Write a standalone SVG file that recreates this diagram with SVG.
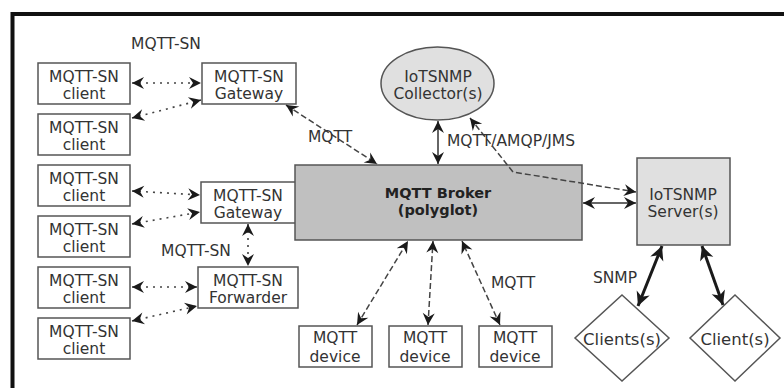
<svg xmlns="http://www.w3.org/2000/svg" width="784" height="388" viewBox="0 0 784 388">
<defs>
<marker id="ah" viewBox="-13 -7 14 14" refX="0" refY="0" markerWidth="14" markerHeight="14" markerUnits="userSpaceOnUse" orient="auto-start-reverse">
<path d="M0,0 L-12,-6 L-8,0 L-12,6 Z" fill="#1a1a1a"/>
</marker>
<marker id="ahb" viewBox="-15 -8 16 16" refX="0" refY="0" markerWidth="16" markerHeight="16" markerUnits="userSpaceOnUse" orient="auto-start-reverse">
<path d="M0,0 L-14,-7 L-10,0 L-14,7 Z" fill="#1a1a1a"/>
</marker>
</defs>
<style>
text{font-family:"DejaVu Sans","Liberation Sans",sans-serif;font-size:15.5px;fill:#333;text-anchor:middle}
.box{fill:#fff;stroke:#555;stroke-width:1.5}
.gray{fill:#e0e0e0;stroke:#555;stroke-width:1.5}
.dot{fill:none;stroke:#444;stroke-width:1.6;stroke-dasharray:2,5;marker-start:url(#ah);marker-end:url(#ah)}
.dash{fill:none;stroke:#444;stroke-width:1.5;stroke-dasharray:6,3;marker-start:url(#ah);marker-end:url(#ah)}
.solid{fill:none;stroke:#333;stroke-width:1.5;marker-start:url(#ah);marker-end:url(#ah)}
.thick{fill:none;stroke:#1a1a1a;stroke-width:3;marker-start:url(#ahb);marker-end:url(#ahb)}
.bold{font-weight:bold;fill:#222}
</style>
<rect width="784" height="388" fill="#fff"/>
<path d="M12.5,388 V14 H784" fill="none" stroke="#111" stroke-width="4"/>

<g id="client1"><rect class="box" x="38" y="63" width="92" height="41"/><text x="84" y="82">MQTT-SN</text><text x="84" y="99">client</text></g>
<g id="client2"><rect class="box" x="38" y="114" width="92" height="41"/><text x="84" y="133">MQTT-SN</text><text x="84" y="150">client</text></g>
<g id="client3"><rect class="box" x="38" y="165" width="92" height="41"/><text x="84" y="184">MQTT-SN</text><text x="84" y="201">client</text></g>
<g id="client4"><rect class="box" x="38" y="216" width="92" height="41"/><text x="84" y="235">MQTT-SN</text><text x="84" y="252">client</text></g>
<g id="client5"><rect class="box" x="38" y="267" width="92" height="41"/><text x="84" y="286">MQTT-SN</text><text x="84" y="303">client</text></g>
<g id="client6"><rect class="box" x="38" y="318" width="92" height="41"/><text x="84" y="337">MQTT-SN</text><text x="84" y="354">client</text></g>

<g id="gateway1"><rect class="box" x="202" y="63" width="94" height="41"/><text x="249" y="82">MQTT-SN</text><text x="249" y="99">Gateway</text></g>
<g id="gateway2"><rect class="box" x="201" y="182" width="95" height="41"/><text x="248" y="201">MQTT-SN</text><text x="248" y="218">Gateway</text></g>
<g id="forwarder"><rect class="box" x="198" y="267" width="100" height="41"/><text x="248" y="286">MQTT-SN</text><text x="248" y="303">Forwarder</text></g>

<g id="broker"><rect x="295" y="165" width="287" height="75" fill="#c0c0c0" stroke="#555" stroke-width="1.5"/><text class="bold" x="438" y="198" style="font-size:14.5px">MQTT Broker</text><text class="bold" x="438" y="215" style="font-size:14.5px">(polyglot)</text></g>

<g id="collector"><ellipse class="gray" cx="437.5" cy="83.5" rx="56.5" ry="36.5"/><text x="438" y="82">IoTSNMP</text><text x="438" y="99">Collector(s)</text></g>

<g id="server"><rect class="gray" x="637" y="158" width="93" height="87"/><text x="683" y="200">IoTSNMP</text><text x="683" y="217">Server(s)</text></g>

<g id="device1"><rect class="box" x="299" y="326" width="73" height="41"/><text x="335" y="343">MQTT</text><text x="335" y="362">device</text></g>
<g id="device2"><rect class="box" x="389" y="326" width="73" height="41"/><text x="425" y="343">MQTT</text><text x="425" y="362">device</text></g>
<g id="device3"><rect class="box" x="479" y="326" width="73" height="41"/><text x="515" y="343">MQTT</text><text x="515" y="362">device</text></g>

<g id="clients1"><polygon class="box" points="622,295 669,338 622,381 575,338"/><text x="622" y="345" style="font-size:16.5px">Clients(s)</text></g>
<g id="clients2"><polygon class="box" points="735,295 780,338 735,381 690,338"/><text x="735" y="345" style="font-size:16.5px">Client(s)</text></g>

<g id="connectors">
<line class="dot" x1="132" y1="83" x2="201" y2="83"/>
<line class="dot" x1="132" y1="118" x2="201" y2="100"/>
<line class="dot" x1="132" y1="191" x2="200" y2="195"/>
<line class="dot" x1="132" y1="224" x2="200" y2="212"/>
<line class="dot" x1="132" y1="287" x2="197" y2="287"/>
<line class="dot" x1="132" y1="321" x2="197" y2="306"/>
<line class="dot" x1="248" y1="224" x2="248" y2="266"/>
<line class="dash" x1="286" y1="105" x2="377" y2="164"/>
<line class="solid" x1="438" y1="121" x2="438" y2="164"/>
<polyline class="dash" points="470,118 513,172 636,192"/>
<line class="solid" x1="583" y1="203" x2="636" y2="203"/>
<line class="dash" x1="357" y1="325" x2="408" y2="241"/>
<line class="dash" x1="428" y1="325" x2="433" y2="241"/>
<line class="dash" x1="500" y1="325" x2="462" y2="241"/>
<line class="thick" x1="662" y1="246" x2="638" y2="306"/>
<line class="thick" x1="702" y1="246" x2="723" y2="305"/>
<text x="166" y="49">MQTT-SN</text>
<text x="330" y="142">MQTT</text>
<text x="447" y="146" style="text-anchor:start">MQTT/AMQP/JMS</text>
<text x="196" y="256">MQTT-SN</text>
<text x="513" y="288">MQTT</text>
<text x="615" y="283">SNMP</text>
</g>
</svg>
